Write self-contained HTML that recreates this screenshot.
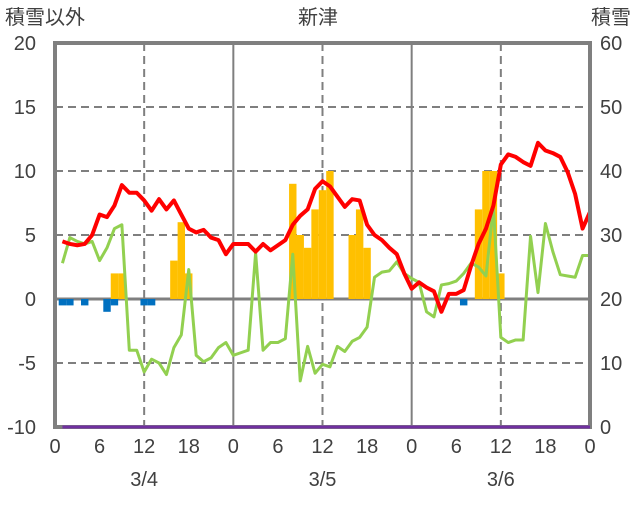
<!DOCTYPE html>
<html><head><meta charset="utf-8"><style>
body{margin:0;background:#fff;width:636px;height:501px;overflow:hidden}
svg text{font-family:"Liberation Sans","Noto Sans CJK JP",sans-serif;fill:#404040;font-size:20px}
</style></head><body>
<svg id="chart" width="636" height="501" xmlns="http://www.w3.org/2000/svg">
<text x="5" y="24">積雪以外</text>
<text x="318" y="24" text-anchor="middle">新津</text>
<text x="631" y="24" text-anchor="end">積雪</text>
<g id="grid"></g><g id="bars"></g><g id="lines"></g><g id="axes"></g>
</svg>
<script>
const temp=[4.5,4.3,4.2,4.3,5.0,6.6,6.4,7.3,8.9,8.3,8.3,7.7,6.9,7.8,7.0,7.7,6.6,5.5,5.2,5.4,4.8,4.6,3.5,4.3,4.3,4.3,3.7,4.3,3.8,4.2,4.6,5.8,6.5,7.0,8.6,9.2,8.8,8.0,7.2,7.8,7.7,5.8,5.0,4.6,4.0,3.5,2.0,0.8,1.3,0.9,0.6,-1.0,0.4,0.4,0.7,2.6,4.3,5.5,7.3,10.5,11.3,11.1,10.7,10.4,12.2,11.6,11.4,11.1,9.9,8.2,5.5,6.8];
const wind=[2.8,4.8,4.5,4.3,4.5,3.0,4.0,5.5,5.8,-4.0,-4.0,-5.7,-4.7,-5.0,-5.9,-3.8,-2.8,2.3,-4.4,-4.9,-4.6,-3.8,-3.4,-4.4,-4.2,-4.0,3.6,-4.0,-3.4,-3.4,-3.1,3.5,-6.4,-3.7,-5.8,-5.1,-5.3,-3.7,-4.1,-3.3,-3.0,-2.2,1.7,2.1,2.2,2.9,2.0,1.6,1.3,-1.0,-1.4,1.1,1.2,1.4,2.0,2.8,2.5,1.8,7.2,-3.0,-3.4,-3.2,-3.2,4.9,0.5,5.9,3.7,1.9,1.8,1.7,3.4,3.4];
const snowHours=[8,9,16,17,18,32,33,34,35,36,37,40,41,42,57,58,59,60];
const snowVals=[2,2,3,6,2,9,5,4,7,8.5,10,5,7,4,7,10,10,2];
const negHours=[1,2,4,7,8,12,13,55];
const negVals=[-0.5,-0.5,-0.5,-1,-0.5,-0.5,-0.5,-0.5];
const leftTicks=[20,15,10,5,0,-5,-10];
const rightTicks=[60,50,40,30,20,10,0];
const hourTicks=[0,6,12,18,0,6,12,18,0,6,12,18,0];
const dates=["3/4","3/5","3/6"];
const X0=55,X1=590,Y0=43,Y1=427;
const x=h=>X0+(X1-X0)*h/72;
const y=v=>Y0+(Y1-Y0)*(20-v)/30;
const NS="http://www.w3.org/2000/svg";
function mk(p,t,a){const e=document.createElementNS(NS,t);for(const k in a)e.setAttribute(k,a[k]);p.appendChild(e);return e;}
const G=document.getElementById('grid'),B=document.getElementById('bars'),L=document.getElementById('lines'),A=document.getElementById('axes');
[15,10,5,-5].forEach(v=>{const e=mk(G,'line',{x1:X0,x2:X1,y1:y(v),y2:y(v),stroke:'#7f7f7f','stroke-width':2,'stroke-dasharray':'8,5'});

});
[12,36,60].forEach(h=>{const e=mk(G,'line',{x1:x(h),x2:x(h),y1:Y0,y2:Y1,stroke:'#7f7f7f','stroke-width':2,'stroke-dasharray':'8,5'});

});
[24,48].forEach(h=>{const e=mk(G,'line',{x1:x(h),x2:x(h),y1:Y0,y2:Y1,stroke:'#7f7f7f','stroke-width':2});

});
const bw=(X1-X0)/72;
snowHours.forEach((h,i)=>{const v=snowVals[i];const r=mk(B,'rect',{x:x(h)-bw/2,y:y(v),width:bw,height:y(0)-y(v),fill:'#ffc000'});

});
negHours.forEach((h,i)=>{const v=negVals[i];const r=mk(B,'rect',{x:x(h)-bw/2,y:y(0),width:bw,height:y(v)-y(0),fill:'#0070c0'});

});
const z=mk(G,'line',{x1:X0,x2:X1,y1:y(0),y2:y(0),stroke:'#7f7f7f','stroke-width':3});


const pw=mk(L,'polyline',{points:wind.map((v,i)=>x(i+1)+','+y(v)).join(' '),fill:'none',stroke:'#92d050','stroke-width':3,'stroke-linejoin':'round'});


const pt=mk(L,'polyline',{points:temp.map((v,i)=>x(i+1)+','+y(v)).join(' '),fill:'none',stroke:'#ff0000','stroke-width':4,'stroke-linejoin':'round'});


const fr=mk(A,'rect',{x:X0,y:Y0,width:X1-X0,height:Y1-Y0,fill:'none',stroke:'#7f7f7f','stroke-width':4});


const pd=mk(A,'line',{x1:x(1),x2:X1,y1:Y1,y2:Y1,stroke:'#7030a0','stroke-width':3});


leftTicks.forEach(v=>{const t=mk(A,'text',{x:36,y:y(v)+7,'text-anchor':'end'});t.textContent=v;

});
rightTicks.forEach((v,i)=>{const t=mk(A,'text',{x:600,y:y(leftTicks[i])+7,'text-anchor':'start'});t.textContent=v;

});
hourTicks.forEach((v,i)=>{const t=mk(A,'text',{x:x(i*6),y:453,'text-anchor':'middle'});t.textContent=v;

});
dates.forEach((d,i)=>{const t=mk(A,'text',{x:x(12+i*24),y:486,'text-anchor':'middle'});t.textContent=d;

});
</script>
</body></html>
